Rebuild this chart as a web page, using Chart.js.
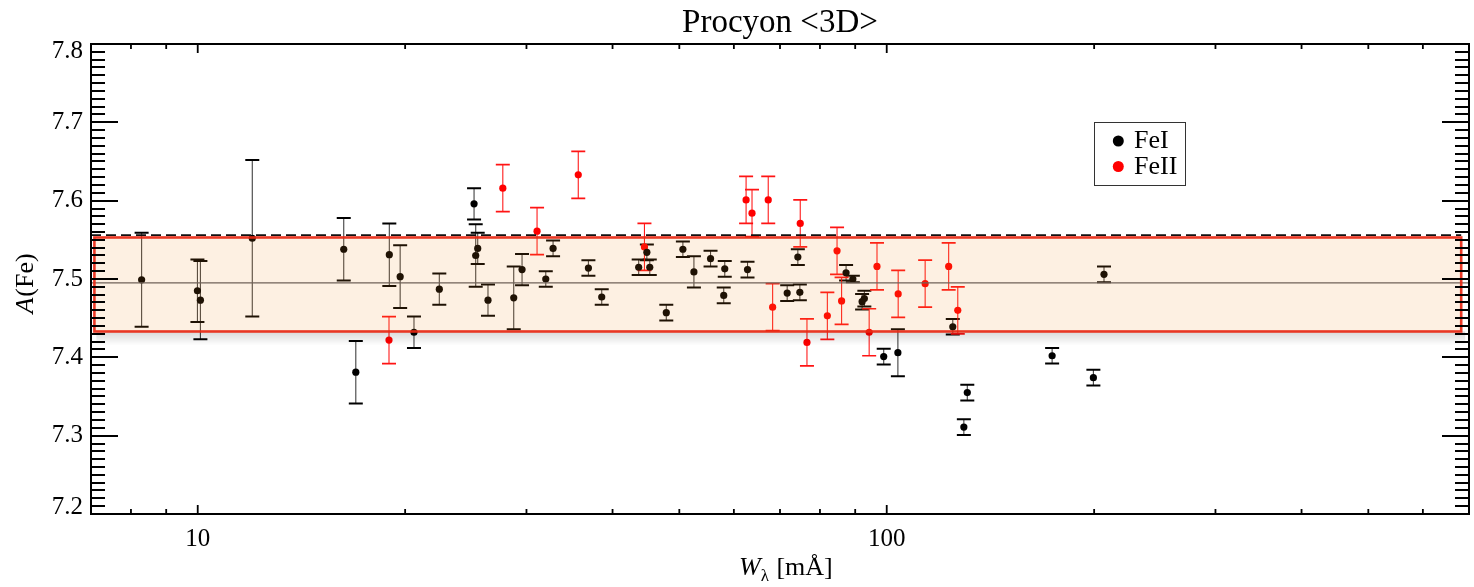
<!DOCTYPE html>
<html>
<head>
<meta charset="utf-8">
<script src="https://cdn.jsdelivr.net/npm/chart.js@4/dist/chart.umd.min.js"></script>
<style>
html,body{margin:0;padding:0;background:#fff;}
#wrap{width:1474px;height:587px;}
</style>
</head>
<body>
<div id="wrap"><canvas id="c" width="1474" height="587"></canvas></div>
<script>
// ---------- data ----------
const chartTitle = 'Procyon <3D>';
const seriesNames = ['FeI', 'FeII'];

const feI_W = [8.29, 9.99, 10.09, 12.0, 16.29,
  16.96, 18.97, 19.67, 20.6, 22.42,
  25.18, 25.32, 25.49, 26.38, 28.75,
  29.56, 32.0, 32.79, 36.9, 38.58,
  43.65, 44.86, 45.3, 47.87, 50.6,
  52.5, 55.5, 58.0, 58.2, 62.8,
  71.7, 74.3, 74.8, 87.3, 89.3,
  92.1, 92.8, 99.0, 103.8, 124.7,
  129.4, 130.9, 173.8, 199.5, 206.7];
const feI_A = [7.499, 7.485, 7.473, 7.552, 7.538,
  7.381, 7.531, 7.503, 7.432, 7.487,
  7.596, 7.530, 7.539, 7.473, 7.476,
  7.512, 7.500, 7.539, 7.514, 7.477,
  7.515, 7.534, 7.515, 7.457, 7.538,
  7.509, 7.526, 7.479, 7.513, 7.512,
  7.482, 7.528, 7.483, 7.508, 7.500,
  7.471, 7.475, 7.401, 7.406, 7.439,
  7.311, 7.355, 7.402, 7.374, 7.506];
const feI_err = [0.06, 0.04, 0.05, 0.10, 0.04,
  0.04, 0.04, 0.04, 0.02, 0.02,
  0.02, 0.04, 0.02, 0.02, 0.04,
  0.02, 0.01, 0.01, 0.01, 0.01,
  0.01, 0.01, 0.01, 0.01, 0.01,
  0.02, 0.01, 0.01, 0.01, 0.01,
  0.01, 0.01, 0.01, 0.01, 0.004,
  0.01, 0.01, 0.01, 0.03, 0.01,
  0.01, 0.01, 0.01, 0.01, 0.01];

const feII_W = [18.95, 27.72, 31.08, 35.67, 44.5,
  62.5, 63.75, 67.3, 68.3, 74.9,
  76.6, 82.0, 84.7, 86.0, 94.3,
  96.8, 103.9, 113.7, 123.0, 126.8];
const feII_A = [7.422, 7.616, 7.561, 7.633, 7.541,
  7.601, 7.584, 7.601, 7.464, 7.571,
  7.419, 7.453, 7.536, 7.472, 7.432,
  7.516, 7.481, 7.494, 7.516, 7.460];
const feII_err = [0.03, 0.03, 0.03, 0.03, 0.03,
  0.03, 0.03, 0.03, 0.03, 0.03,
  0.03, 0.03, 0.03, 0.03, 0.03,
  0.03, 0.03, 0.03, 0.03, 0.03];

// mean abundance, 1-sigma band and upper dashed level
const meanA = 7.495;
const bandA = [7.433, 7.553];
const bandW = [7.08, 682];
const dashA = 7.556;

// axes
const xRange = [7, 700];
const yRange = [7.2, 7.8];
const xTickLabels = [10, 100];
const xMinorTicks = [8, 9, 20, 30, 40, 50, 60, 70, 80, 90, 200, 300, 400, 500, 600];

// ---------- chart ----------
const FONT = "'Liberation Serif', 'Times New Roman', serif";

function pts(W, A) { return W.map((w, i) => ({x: w, y: A[i]})); }

const decor = {
  id: 'decor',
  beforeDatasetsDraw(chart) {
    const {ctx, scales: {x, y}} = chart;
    ctx.save();
    function bars(W, A, E, lineCol, capCol, capW) {
      for (let i = 0; i < W.length; i++) {
        const px = x.getPixelForValue(W[i]);
        const pt = y.getPixelForValue(A[i] + E[i]);
        const pb = y.getPixelForValue(A[i] - E[i]);
        ctx.strokeStyle = lineCol; ctx.lineWidth = 1.1;
        ctx.beginPath(); ctx.moveTo(px, pt); ctx.lineTo(px, pb); ctx.stroke();
        ctx.strokeStyle = capCol; ctx.lineWidth = capW;
        ctx.beginPath();
        ctx.moveTo(px - 7, pt); ctx.lineTo(px + 7, pt);
        ctx.moveTo(px - 7, pb); ctx.lineTo(px + 7, pb);
        ctx.stroke();
      }
    }
    bars(feI_W, feI_A, feI_err, 'rgba(0,0,0,0.75)', '#000', 2);
    bars(feII_W, feII_A, feII_err, 'rgba(255,0,0,0.9)', 'rgb(255,20,20)', 1.7);
    ctx.restore();
  },
  afterDatasetsDraw(chart) {
    const {ctx, chartArea: ca, scales: {x, y}} = chart;
    const xl = x.getPixelForValue(bandW[0]), xr = x.getPixelForValue(bandW[1]);
    const yt = y.getPixelForValue(bandA[1]), yb = y.getPixelForValue(bandA[0]);
    ctx.save();
    // shadow below band
    const g = ctx.createLinearGradient(0, yb, 0, yb + 14);
    g.addColorStop(0, 'rgba(0,0,0,0.15)');
    g.addColorStop(1, 'rgba(0,0,0,0)');
    ctx.fillStyle = g;
    ctx.fillRect(xl + 2, yb, xr - xl + 2, 14);
    // band fill
    ctx.fillStyle = 'rgba(240,140,32,0.13)';
    ctx.fillRect(xl, yt, xr - xl, yb - yt);
    // mean line
    const ym = y.getPixelForValue(meanA);
    ctx.strokeStyle = 'rgb(112,98,88)'; ctx.lineWidth = 1.3;
    ctx.beginPath(); ctx.moveTo(ca.left, ym); ctx.lineTo(ca.right, ym); ctx.stroke();
    // dashed upper level
    const yd = y.getPixelForValue(dashA);
    ctx.setLineDash([10, 5]);
    ctx.strokeStyle = '#111'; ctx.lineWidth = 1.6;
    ctx.beginPath(); ctx.moveTo(ca.left, yd); ctx.lineTo(xr, yd); ctx.stroke();
    ctx.setLineDash([]);
    // band border
    ctx.strokeStyle = 'rgba(232,40,20,0.92)'; ctx.lineWidth = 2.6;
    ctx.strokeRect(xl, yt, xr - xl, yb - yt);
    ctx.restore();
  },
  afterDraw(chart) {
    const {ctx, chartArea: ca, scales: {x, y}} = chart;
    ctx.save();
    // frame
    ctx.strokeStyle = '#000'; ctx.lineWidth = 2;
    ctx.strokeRect(ca.left, ca.top, ca.right - ca.left, ca.bottom - ca.top);
    // y ticks (left and right, inward)
    ctx.lineWidth = 2;
    ctx.beginPath();
    for (let k = 0; k <= 60; k++) {
      const v = yRange[0] + k * 0.01;
      const py = Math.round(y.getPixelForValue(v));
      const len = (k % 10 === 0) ? 27 : 14;
      ctx.moveTo(ca.left, py); ctx.lineTo(ca.left + len, py);
      ctx.moveTo(ca.right, py); ctx.lineTo(ca.right - len, py);
    }
    ctx.stroke();
    // x ticks (bottom and top, inward)
    ctx.lineWidth = 1.8;
    ctx.beginPath();
    const allX = xMinorTicks.map(v => [v, 5]).concat(xTickLabels.map(v => [v, 9]));
    for (const [v, len] of allX) {
      const px = x.getPixelForValue(v);
      ctx.moveTo(px, ca.bottom); ctx.lineTo(px, ca.bottom - len);
      ctx.moveTo(px, ca.top); ctx.lineTo(px, ca.top + len);
    }
    ctx.stroke();

    ctx.fillStyle = '#000';
    ctx.textBaseline = 'alphabetic';
    // title, centred over the plot area
    const cx = (ca.left + ca.right) / 2;
    ctx.textAlign = 'center';
    ctx.font = '33px ' + FONT;
    ctx.fillText(chartTitle, cx, 32);
    ctx.textAlign = 'left';

    // y title: A(Fe)
    ctx.save();
    ctx.translate(33, (ca.top + ca.bottom) / 2 + 5);
    ctx.rotate(-Math.PI / 2);
    ctx.font = 'italic 26px ' + FONT;
    const wA = ctx.measureText('A').width;
    ctx.font = '26px ' + FONT;
    const wFe = ctx.measureText('(Fe)').width;
    const sx = -(wA + wFe) / 2;
    ctx.font = 'italic 26px ' + FONT;
    ctx.fillText('A', sx, 0);
    ctx.font = '26px ' + FONT;
    ctx.fillText('(Fe)', sx + wA + 1, 0);
    ctx.restore();

    // x title: W_lambda [mÅ]
    let tx = cx - 41;
    const ty = 575;
    ctx.font = 'italic 26px ' + FONT;
    ctx.fillText('W', tx, ty);
    tx += ctx.measureText('W').width;
    ctx.font = '17px ' + FONT;
    ctx.fillText('λ', tx, ty + 6);
    tx += ctx.measureText('λ').width;
    ctx.font = '26px ' + FONT;
    ctx.fillText(' [mÅ]', tx + 1, ty);

    // legend
    const lx = 1094.5, ly = 122.5, lw = 91, lh = 63;
    ctx.fillStyle = '#fff';
    ctx.fillRect(lx, ly, lw, lh);
    ctx.strokeStyle = '#333'; ctx.lineWidth = 1;
    ctx.strokeRect(lx, ly, lw, lh);
    const cols = ['#000', 'rgb(255,0,0)'];
    const rowsY = [141, 166.5];
    ctx.font = '26px ' + FONT;
    for (let i = 0; i < 2; i++) {
      ctx.fillStyle = cols[i];
      ctx.beginPath(); ctx.arc(lx + 23.8, rowsY[i], 5.5, 0, Math.PI * 2); ctx.fill();
      ctx.fillStyle = '#000';
      ctx.fillText(seriesNames[i], lx + 39.5, rowsY[i] + 7);
    }
    ctx.restore();
  }
};

new Chart(document.getElementById('c'), {
  type: 'scatter',
  data: {
    datasets: [
      {label: seriesNames[0], data: pts(feI_W, feI_A), backgroundColor: '#000', borderColor: '#000',
       pointRadius: 3.6, pointBorderWidth: 0, showLine: false},
      {label: seriesNames[1], data: pts(feII_W, feII_A), backgroundColor: 'rgb(255,0,0)', borderColor: 'rgb(255,0,0)',
       pointRadius: 3.6, pointBorderWidth: 0, showLine: false}
    ]
  },
  options: {
    responsive: false,
    animation: false,
    devicePixelRatio: 1,
    layout: {padding: {left: 0, right: 5, top: 44, bottom: 0}},
    plugins: {
      legend: {display: false},
      tooltip: {enabled: false},
      title: {display: false}
    },
    scales: {
      x: {
        type: 'logarithmic', min: xRange[0], max: xRange[1],
        grid: {display: false, drawTicks: false},
        border: {display: false},
        afterFit: s => { s.height = 73; },
        afterBuildTicks: s => { s.ticks = xTickLabels.map(v => ({value: v})); },
        ticks: {color: '#000', font: {family: FONT, size: 25}, padding: 10,
          autoSkip: false, maxRotation: 0, callback: v => String(v)}
      },
      y: {
        type: 'linear', min: yRange[0], max: yRange[1],
        grid: {display: false, drawTicks: false},
        border: {display: false},
        afterFit: s => { s.width = 91; },
        ticks: {color: '#000', stepSize: 0.1, padding: 8,
          font: {family: FONT, size: 25, lineHeight: '14px'},
          callback: v => {
            const s = Number(v).toFixed(1);
            if (Math.abs(v - yRange[1]) < 1e-6) return ['', s];
            if (Math.abs(v - yRange[0]) < 1e-6) return [s, ''];
            return s;
          }}
      }
    }
  },
  plugins: [decor]
});
</script>
</body>
</html>
